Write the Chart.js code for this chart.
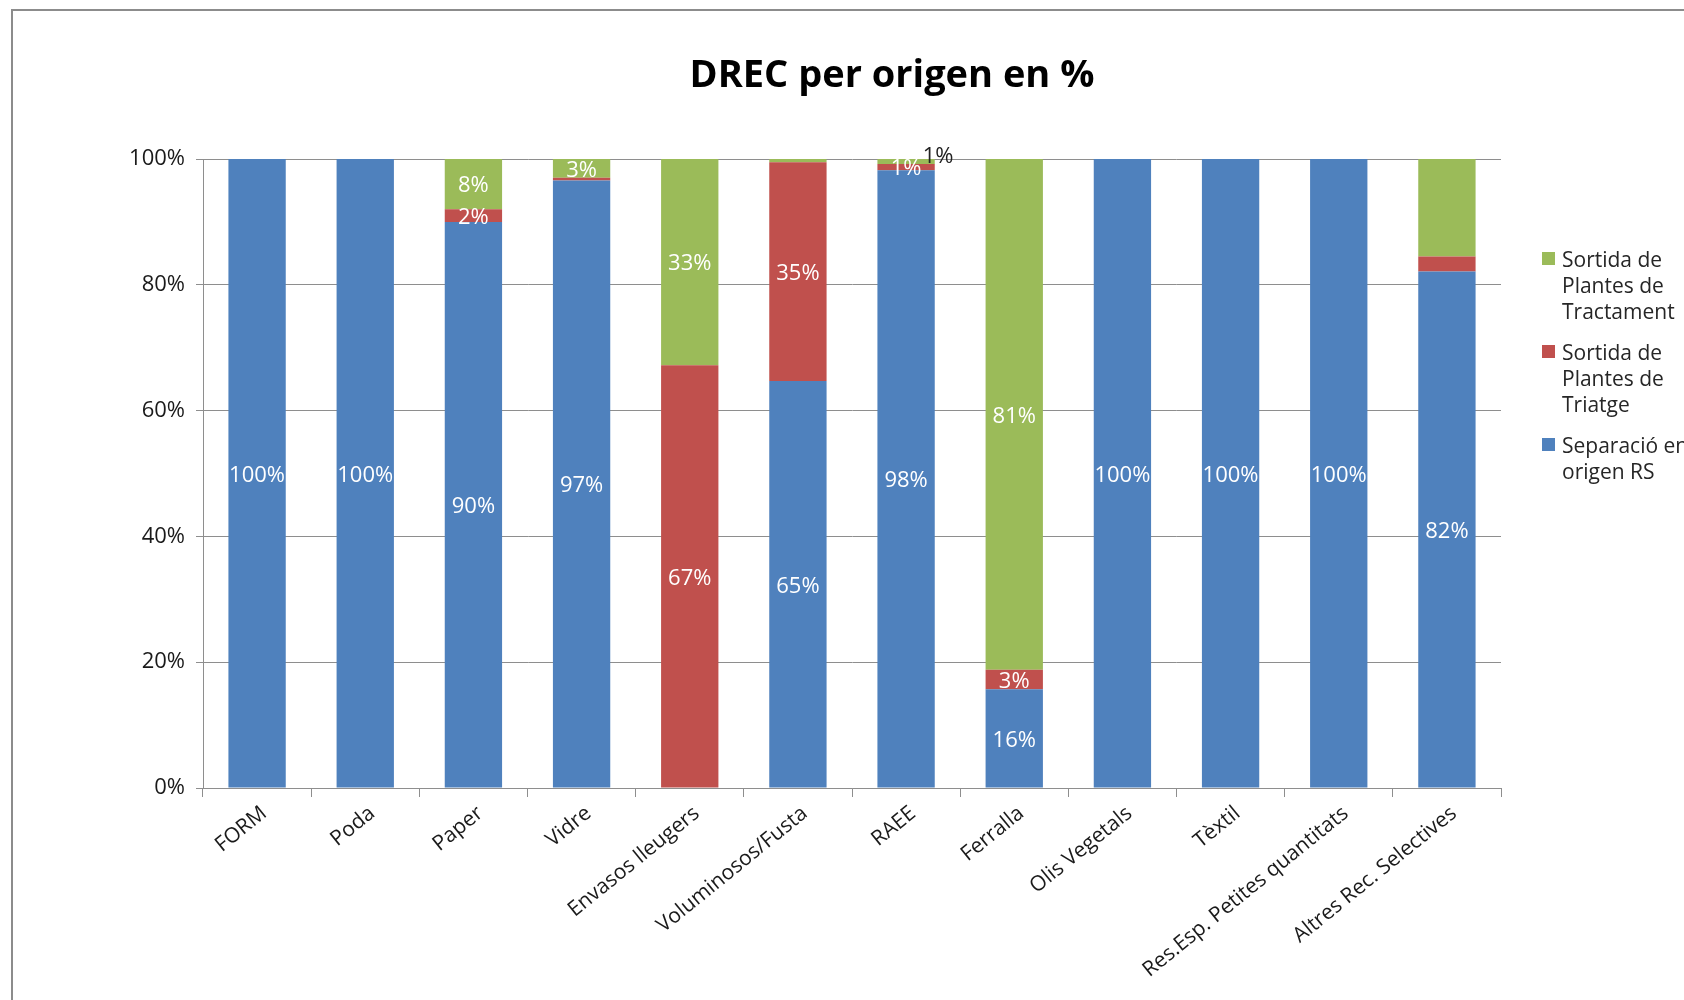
<!DOCTYPE html>
<html>
<head>
<meta charset="utf-8">
<script src="https://cdn.jsdelivr.net/npm/chart.js@4.4.1/dist/chart.umd.min.js"></script>
<style>
  html, body { margin: 0; padding: 0; background: #fff; overflow: hidden; }
  #wrap { position: relative; width: 1684px; height: 1000px; }
  #frame { position: absolute; left: 11px; top: 9px; right: -10px; bottom: -10px;
    border-left: 2px solid #8c8c8c; border-top: 2px solid #8c8c8c; }
  #chart { position: absolute; left: 0; top: 0; }
  #title { position: absolute; left: 492px; top: 51px; width: 800px; text-align: center;
    font: bold 38px "Open Sans"; line-height: 42px; color: #000; }
  #legend { position: absolute; left: 1542px; top: 246px; }
  .leg-item { position: relative; padding-left: 20px; width: 132px; margin-bottom: 15px;
    font: 21px "Open Sans"; line-height: 26px; color: #262626; white-space: nowrap; }
  .leg-item span.sw { position: absolute; left: 0; top: 6px; width: 13px; height: 13px; }
</style>
</head>
<body>
<div id="wrap">
  <div id="frame"></div>
  <canvas id="chart" width="1684" height="1000"></canvas>
  <div id="title">DREC per origen en %</div>
  <div id="legend"></div>
</div>
<script>
const categories = ['FORM', 'Poda', 'Paper', 'Vidre', 'Envasos lleugers', 'Voluminosos/Fusta',
  'RAEE', 'Ferralla', 'Olis Vegetals', 'Tèxtil', 'Res.Esp. Petites quantitats', 'Altres Rec. Selectives'];

const seriesNames = ['Separació en origen RS', 'Sortida de Plantes de Triatge', 'Sortida de Plantes de Tractament'];
const legendLines = [['Separació en', 'origen RS'], ['Sortida de', 'Plantes de', 'Triatge'], ['Sortida de', 'Plantes de', 'Tractament']];

// percent shares
const origenRS   = [100, 100, 90, 96.6, 0, 64.7, 98.2, 15.7, 100, 100, 100, 82.1];
const triatge    = [0, 0, 2, 0.4, 67.2, 34.8, 1.0, 3.1, 0, 0, 0, 2.4];
const tractament = [0, 0, 8, 3.0, 32.8, 0.5, 0.8, 81.2, 0, 0, 0, 15.5];

// labels printed on the segments (null = none shown)
const labelsRS         = ['100%', '100%', '90%', '97%', null, '65%', '98%', '16%', '100%', '100%', '100%', '82%'];
const labelsTriatge    = [null, null, '2%', null, '67%', '35%', '1%', '3%', null, null, null, null];
const labelsTractament = [null, null, '8%', '3%', '33%', null, '1%', '81%', null, null, null, null];

const yTicks = ['0%', '20%', '40%', '60%', '80%', '100%'];

const colors = ['#4f81bd', '#c0504d', '#9bbb59'];
const gridColor = '#8e8e8e';
const font = '"Open Sans"';

const segLabels = [labelsRS, labelsTriatge, labelsTractament];

const labelPlugin = {
  id: 'segLabels',
  afterDatasetsDraw(chart) {
    const ctx = chart.ctx;
    ctx.save();
    ctx.font = '22px ' + font;
    ctx.textAlign = 'center';
    ctx.textBaseline = 'middle';
    chart.data.datasets.forEach((ds, di) => {
      const meta = chart.getDatasetMeta(di);
      meta.data.forEach((bar, i) => {
        const txt = segLabels[di][i];
        if (!txt) return;
        let x = bar.x;
        let y = (bar.y + bar.base) / 2 + 2;
        ctx.fillStyle = '#ffffff';
        // the RAEE top label sits outside the bar
        if (di === 2 && i === 6) {
          x += 32; y -= 7; ctx.fillStyle = '#222';
        }
        ctx.fillText(txt, x, y);
      });
    });
    ctx.restore();
  }
};

const datasets = [origenRS, triatge, tractament].map((d, i) => ({
  label: seriesNames[i],
  data: d,
  backgroundColor: colors[i],
  borderWidth: 0,
  barPercentage: 0.53,
  categoryPercentage: 1
}));

new Chart(document.getElementById('chart'), {
  type: 'bar',
  data: { labels: categories, datasets: datasets },
  options: {
    responsive: false,
    animation: false,
    layout: { padding: { top: 159, right: 183, bottom: 0, left: 0 } },
    plugins: {
      legend: { display: false },
      title: { display: false },
      tooltip: { enabled: false }
    },
    scales: {
      x: {
        stacked: true,
        grid: { offset: true, drawOnChartArea: false, tickLength: 9, color: gridColor },
        border: { color: gridColor },
        ticks: { minRotation: 39, maxRotation: 39, autoSkip: false, padding: 4, labelOffset: 7,
          color: '#1a1a1a', font: { family: font, size: 21 } },
        afterFit: s => { s.height = 212; }
      },
      y: {
        stacked: true,
        min: 0, max: 100,
        grid: { color: gridColor, tickLength: 7 },
        border: { color: gridColor },
        ticks: { stepSize: 20, padding: 11, color: '#1a1a1a', font: { family: font, size: 22 },
          callback: (v, i) => yTicks[i] },
        afterFit: s => { s.width = 203; }
      }
    }
  },
  plugins: [labelPlugin]
});

const legend = document.getElementById('legend');
[2, 1, 0].forEach(i => {
  const item = document.createElement('div');
  item.className = 'leg-item';
  item.innerHTML = '<span class="sw" style="background:' + colors[i] + '"></span>' + legendLines[i].join('<br>');
  legend.appendChild(item);
});
</script>
</body>
</html>
